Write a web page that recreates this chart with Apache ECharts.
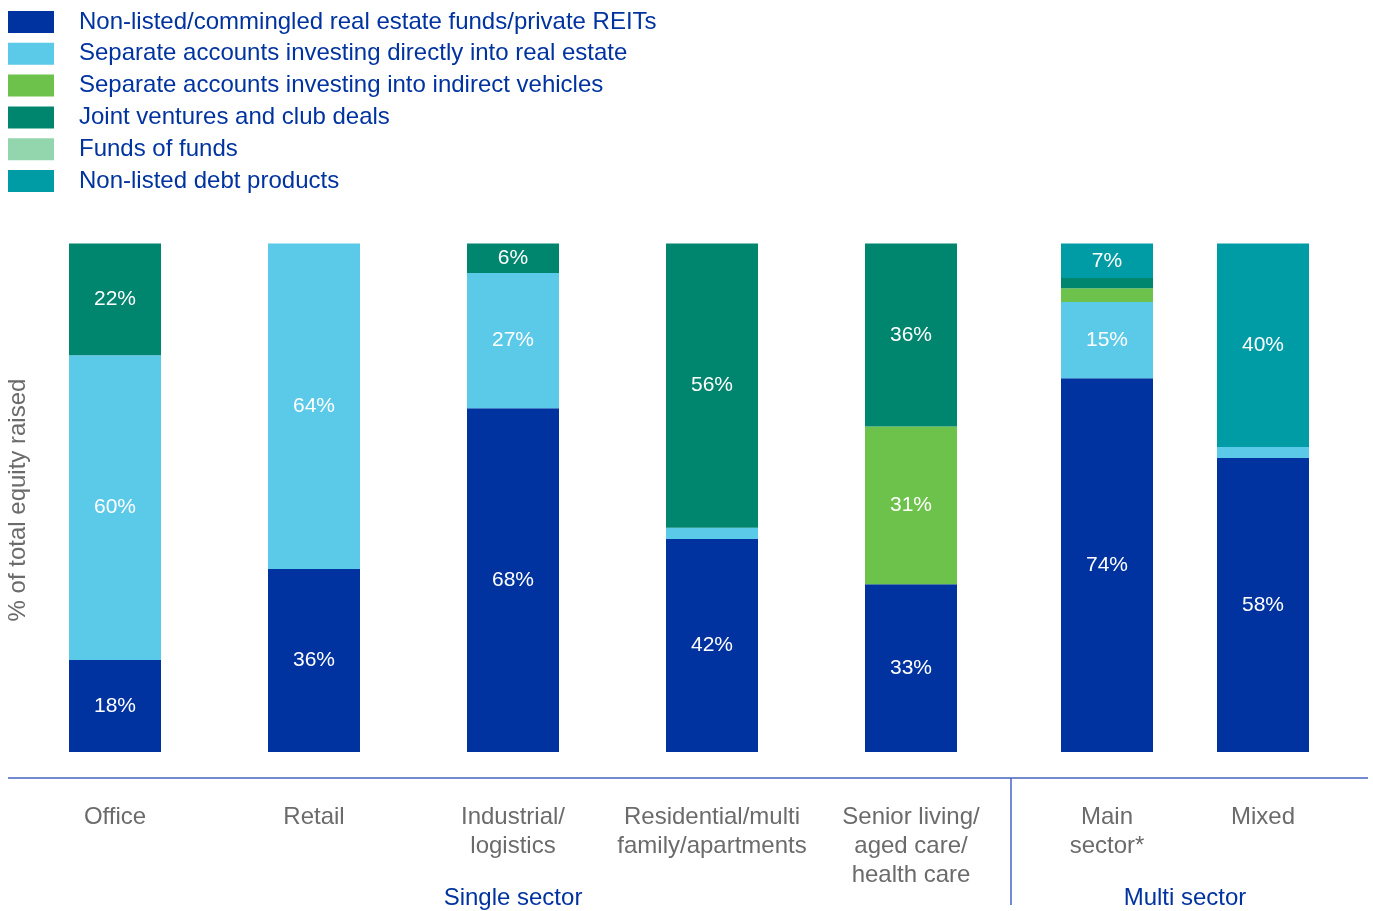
<!DOCTYPE html>
<html>
<head>
<meta charset="utf-8">
<script src="https://cdn.jsdelivr.net/npm/echarts@6/dist/echarts.min.js"></script>
<style>
  html, body { margin: 0; padding: 0; background: #ffffff; }
  #chart { width: 1373px; height: 911px; }
</style>
</head>
<body>
<div id="chart"></div>
<script>
// Sector categories (first five: single sector, last two: multi sector)
const singleCategories = ['Office', 'Retail', 'Industrial/\nlogistics', 'Residential/multi\nfamily/apartments', 'Senior living/\naged care/\nhealth care'];
const multiCategories = ['Main\nsector*', 'Mixed'];

// Share of total equity raised (%), one value per sector in the order above
const nonListedFunds   = [18.1, 36.0, 67.6, 41.9, 33.0, 73.5, 57.8];
const separateDirect   = [59.9, 64.0, 26.6, 2.2, null, 15.0, 2.2];
const separateIndirect = [null, null, null, null, 31.0, 2.7, null];
const jointVentures    = [22.0, null, 5.8, 55.9, 36.0, 2.0, null];
const fundsOfFunds     = [null, null, null, null, null, null, null];
const debtProducts     = [null, null, null, null, null, 6.8, 40.0];

const seriesDefs = [
  { name: 'Non-listed/commingled real estate funds/private REITs', data: nonListedFunds, color: '#0033a0' },
  { name: 'Separate accounts investing directly into real estate', data: separateDirect, color: '#5bc9e8' },
  { name: 'Separate accounts investing into indirect vehicles', data: separateIndirect, color: '#6cc24a' },
  { name: 'Joint ventures and club deals', data: jointVentures, color: '#00856f' },
  { name: 'Funds of funds', data: fundsOfFunds, color: '#93d6ae' },
  { name: 'Non-listed debt products', data: debtProducts, color: '#009ca6' }
];

const FONT = '"Liberation Sans", Arial, Helvetica, sans-serif';
const BLUE_TEXT = '#0033a0';
const GREY_TEXT = '#6b6b6b';
const RULE = '#4463c0';

const chart = echarts.init(document.getElementById('chart'), null, { renderer: 'canvas' });

function makeSeries(gridIndex, from, to) {
  return seriesDefs.map(d => ({
    name: d.name,
    type: 'bar',
    stack: 'total' + gridIndex,
    xAxisIndex: gridIndex,
    yAxisIndex: gridIndex,
    data: d.data.slice(from, to),
    barWidth: 92,
    itemStyle: { color: d.color },
    label: {
      show: true,
      position: 'inside',
      color: '#ffffff',
      fontFamily: FONT,
      fontSize: 21,
      formatter: p => (p.value != null && p.value >= 5) ? Math.round(p.value) + '%' : ''
    },
    emphasis: { disabled: true },
    silent: true
  }));
}

const axisLabelStyle = {
  interval: 0,
  color: GREY_TEXT,
  fontFamily: FONT,
  fontSize: 24,
  lineHeight: 29,
  margin: 51
};

const groupNameStyle = { color: BLUE_TEXT, fontFamily: FONT, fontSize: 24 };

const option = {
  animation: false,
  backgroundColor: '#ffffff',
  legend: {
    orient: 'vertical',
    left: 8,
    top: 10,
    padding: 0,
    itemWidth: 46,
    itemHeight: 22,
    itemGap: 7.8,
    icon: 'rect',
    selectedMode: false,
    textStyle: {
      color: BLUE_TEXT,
      fontFamily: FONT,
      fontSize: 24,
      padding: [0, 0, 0, 20]
    },
    data: seriesDefs.map(d => d.name)
  },
  grid: [
    { left: 15.5, width: 995, top: 243.5, height: 508.5, outerBoundsMode: 'none', containLabel: false },
    { left: 1029, width: 312, top: 243.5, height: 508.5, outerBoundsMode: 'none', containLabel: false }
  ],
  xAxis: [
    {
      type: 'category', gridIndex: 0, data: singleCategories,
      axisLine: { show: false }, axisTick: { show: false },
      axisLabel: axisLabelStyle,
      name: 'Single sector', nameLocation: 'middle', nameGap: 134, nameMoveOverlap: false,
      nameTextStyle: groupNameStyle
    },
    {
      type: 'category', gridIndex: 1, data: multiCategories,
      axisLine: { show: false }, axisTick: { show: false },
      axisLabel: axisLabelStyle,
      name: 'Multi sector', nameLocation: 'middle', nameGap: 134, nameMoveOverlap: false,
      nameTextStyle: groupNameStyle
    }
  ],
  yAxis: [
    { type: 'value', gridIndex: 0, min: 0, max: 100, show: false },
    { type: 'value', gridIndex: 1, min: 0, max: 100, show: false }
  ],
  graphic: [
    {
      type: 'line', silent: true,
      shape: { x1: 8, y1: 778, x2: 1368, y2: 778 },
      style: { stroke: RULE, lineWidth: 1.5 }
    },
    {
      type: 'line', silent: true,
      shape: { x1: 1011, y1: 778, x2: 1011, y2: 905 },
      style: { stroke: RULE, lineWidth: 1.5 }
    },
    {
      type: 'text', silent: true,
      x: 18, y: 500, rotation: Math.PI / 2,
      style: {
        text: '% of total equity raised',
        fill: GREY_TEXT,
        font: '24px ' + FONT,
        textAlign: 'center',
        textVerticalAlign: 'middle'
      }
    }
  ],
  series: makeSeries(0, 0, 5).concat(makeSeries(1, 5, 7))
};

chart.setOption(option);
</script>
</body>
</html>
